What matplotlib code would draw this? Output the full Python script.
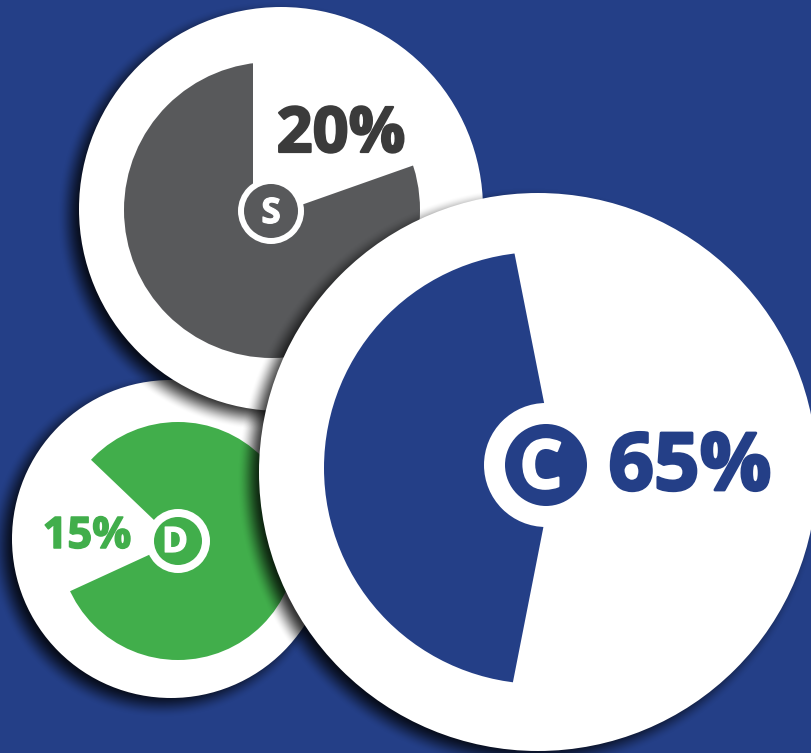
"""
3つの円グラフ風バッジ（S / D / C）を重ねて描く。

- 白い円の中に色付きの扇形、欠けている部分が割合
- 各円には左下方向のぼかし影を付ける
"""

import matplotlib

matplotlib.use("Agg")
import matplotlib.patheffects as pe
import matplotlib.pyplot as plt
import numpy as np
from matplotlib.patches import Circle, Wedge

W, H = 811, 753

# データ（ラベルの値と、図中で実際に欠けている割合）
names = ["S", "D", "C"]
pct_labels = [20, 15, 65]
gap_share = [0.196, 0.19, 0.562]
colors = ["#58595b", "#41ae4b", "#243f87"]
text_colors = ["#3b3b3b", "#41ae4b", "#243f87"]

BG = "#243f87"

# レイアウト（画像座標、y は下向き）
layout = {
    "S": dict(circle=(281, 209, 202), disc=(272, 210, 148), apex=(253, 222), gap_end=90,
              gap_r=185, badge=(271, 211, 27, 33), letter=(271, 223, 25),
              label=(341, 152, 45)),
    "D": dict(circle=(171, 539, 159), disc=(178, 541, 119), apex=(177, 542), gap_end=204.7,
              gap_r=150, badge=(178, 541, 24, 32), letter=(175, 552, 25),
              label=(87, 548, 31)),
    "C": dict(circle=(538, 472, 279), disc=(540, 468, 216), apex=(556, 463), gap_end=101.2,
              gap_r=245, badge=(546, 465, 41, 62), letter=(541, 488, 48),
              label=(690, 490, 57)),
}
draw_order = ["D", "S", "C"]

SH_DX, SH_DY, SH_W, SH_ALPHA = -9, 7, 13, 0.82
FONT = ["Open Sans", "DejaVu Sans"]

xs = np.arange(W) + 0.5
ys = np.arange(H) + 0.5
X, Y = np.meshgrid(xs, ys)


def draw_shadow(ax, cx, cy, r, z):
    d = np.hypot(X - (cx + SH_DX), Y - (cy + SH_DY))
    t = np.clip((r + SH_W - d) / (2 * SH_W), 0, 1)
    img = np.zeros((H, W, 4))
    img[..., 3] = SH_ALPHA * t * t * (3 - 2 * t)
    ax.imshow(img, extent=(0, W, H, 0), zorder=z, interpolation="bilinear")


def gap_wedge(apex, r, start, end, z):
    # 見た目の角度（反時計回り）を y 下向きのデータ座標に変換
    return Wedge(apex, r, -end, -start, facecolor="white", linewidth=0, zorder=z)


def bold_text(ax, x, y, s, cap, color, z):
    # Myriad Bold に近い太さにするため少しだけ縁取る
    size = cap / 0.714 * 0.72
    ax.text(x, y, s, color=color, fontsize=size, fontweight="bold", family=FONT,
            ha="center", va="baseline", zorder=z,
            path_effects=[pe.withStroke(linewidth=size * 0.035, foreground=color)])


def main():
    fig = plt.figure(figsize=(W / 100, H / 100), dpi=100)
    fig.patch.set_facecolor(BG)
    ax = fig.add_axes([0, 0, 1, 1])
    ax.set_facecolor(BG)

    z = 1
    for key in draw_order:
        i = names.index(key)
        lay = layout[key]
        cx, cy, R = lay["circle"]

        draw_shadow(ax, cx, cy, R, z)
        ax.add_patch(Circle((cx, cy), R, facecolor="white", linewidth=0, zorder=z + 1))

        dx, dy, dr = lay["disc"]
        ax.add_patch(Circle((dx, dy), dr, facecolor=colors[i], linewidth=0, zorder=z + 2))

        span = 360 * gap_share[i]
        end = lay["gap_end"]
        ax.add_patch(gap_wedge(lay["apex"], lay["gap_r"], end - span, end, z + 3))

        bx, by, r_in, r_out = lay["badge"]
        ax.add_patch(Circle((bx, by), r_out, facecolor="white", linewidth=0, zorder=z + 4))
        ax.add_patch(Circle((bx, by), r_in, facecolor=colors[i], linewidth=0, zorder=z + 5))

        lx, ly, cap = lay["letter"]
        bold_text(ax, lx, ly, key, cap, "white", z + 6)

        tx, ty, cap = lay["label"]
        bold_text(ax, tx, ty, f"{pct_labels[i]}%", cap, text_colors[i], z + 6)
        z += 10

    ax.set_xlim(0, W)
    ax.set_ylim(H, 0)
    ax.set_aspect("auto")
    ax.axis("off")

    fig.savefig("out.png", dpi=100, facecolor=BG)
    plt.close(fig)


if __name__ == "__main__":
    main()
